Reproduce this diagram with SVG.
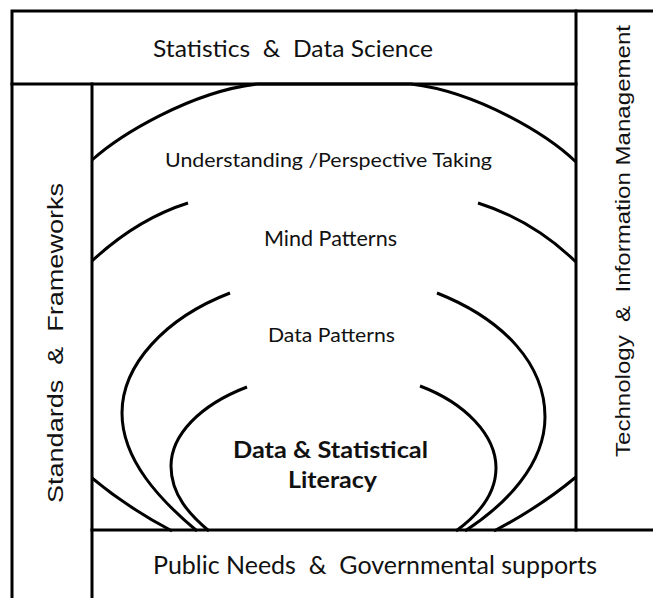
<svg xmlns="http://www.w3.org/2000/svg" width="653" height="598" viewBox="0 0 653 598">
<style>
.frame{fill:none;stroke:#000;stroke-width:3;stroke-linecap:square}
.arc{fill:none;stroke:#000;stroke-width:3;stroke-linecap:butt}
.cal{font-family:Lato,"Open Sans","Liberation Sans",sans-serif;fill:#111}
.ari{font-family:"Liberation Sans",Arial,sans-serif;fill:#111}
</style>
<rect width="653" height="598" fill="#fff"/>
<g id="frame">
<path class="frame" d="M12,598 V11 H653"/>
<path class="frame" d="M12,84 H576"/>
<path class="frame" d="M92,598 V84"/>
<path class="frame" d="M576,11 V530"/>
<path class="frame" d="M92,530 H653"/>
</g>
<g id="connectors">
<path class="arc" d="M92,160 C120,135 190,92 257,84 L411,84 C478,92 548,135 576,162"/>
<path class="arc" d="M92,261 C120,235 150,215 188,203"/>
<path class="arc" d="M478,203 C516,215 548,235 576,262"/>
<path class="arc" d="M92,478 Q128,508 172,531"/>
<path class="arc" d="M576,477 Q540,507 494,531"/>
<path class="arc" d="M230,293 C165,318 122,365 122,413 C122,460 160,500 197,531"/>
<path class="arc" d="M437,293 C505,320 545,365 545,417 C545,465 505,505 465,531"/>
<path class="arc" d="M247,387 C200,405 171,435 171,466 C171,495 190,515 209,531"/>
<path class="arc" d="M420,386 C465,403 496,435 496,468 C496,495 478,515 456,531"/>
</g>
<g id="stats">
<text class="cal" x="153" y="56.5" font-size="24" textLength="280" lengthAdjust="spacingAndGlyphs" xml:space="preserve">Statistics  &amp;  Data Science</text>
</g>
<g id="standards">
<text class="ari" transform="translate(62.5,503) rotate(-90)" font-size="22" textLength="320" lengthAdjust="spacingAndGlyphs" xml:space="preserve">Standards  &amp;  Frameworks</text>
</g>
<g id="tech">
<text class="ari" transform="translate(630,457) rotate(-90)" font-size="21" textLength="432" lengthAdjust="spacingAndGlyphs" xml:space="preserve">Technology  &amp;  Information Management</text>
</g>
<g id="public">
<text class="cal" x="153" y="574" font-size="24.5" textLength="444" lengthAdjust="spacingAndGlyphs" xml:space="preserve">Public Needs  &amp;  Governmental supports</text>
</g>
<g id="understanding">
<text class="cal" x="165" y="166.5" font-size="19.5" textLength="327" lengthAdjust="spacingAndGlyphs">Understanding /Perspective Taking</text>
</g>
<g id="mind">
<text class="cal" x="264" y="246" font-size="20.5" textLength="133" lengthAdjust="spacingAndGlyphs">Mind Patterns</text>
</g>
<g id="data-patterns">
<text class="cal" x="268" y="342" font-size="19.5" textLength="127" lengthAdjust="spacingAndGlyphs">Data Patterns</text>
</g>
<g id="literacy">
<text class="cal" x="233" y="457.5" font-size="23.5" font-weight="bold" textLength="195" lengthAdjust="spacingAndGlyphs">Data &amp; Statistical</text>
<text class="cal" x="288" y="488" font-size="23.5" font-weight="bold" textLength="89" lengthAdjust="spacingAndGlyphs">Literacy</text>
</g>
</svg>
